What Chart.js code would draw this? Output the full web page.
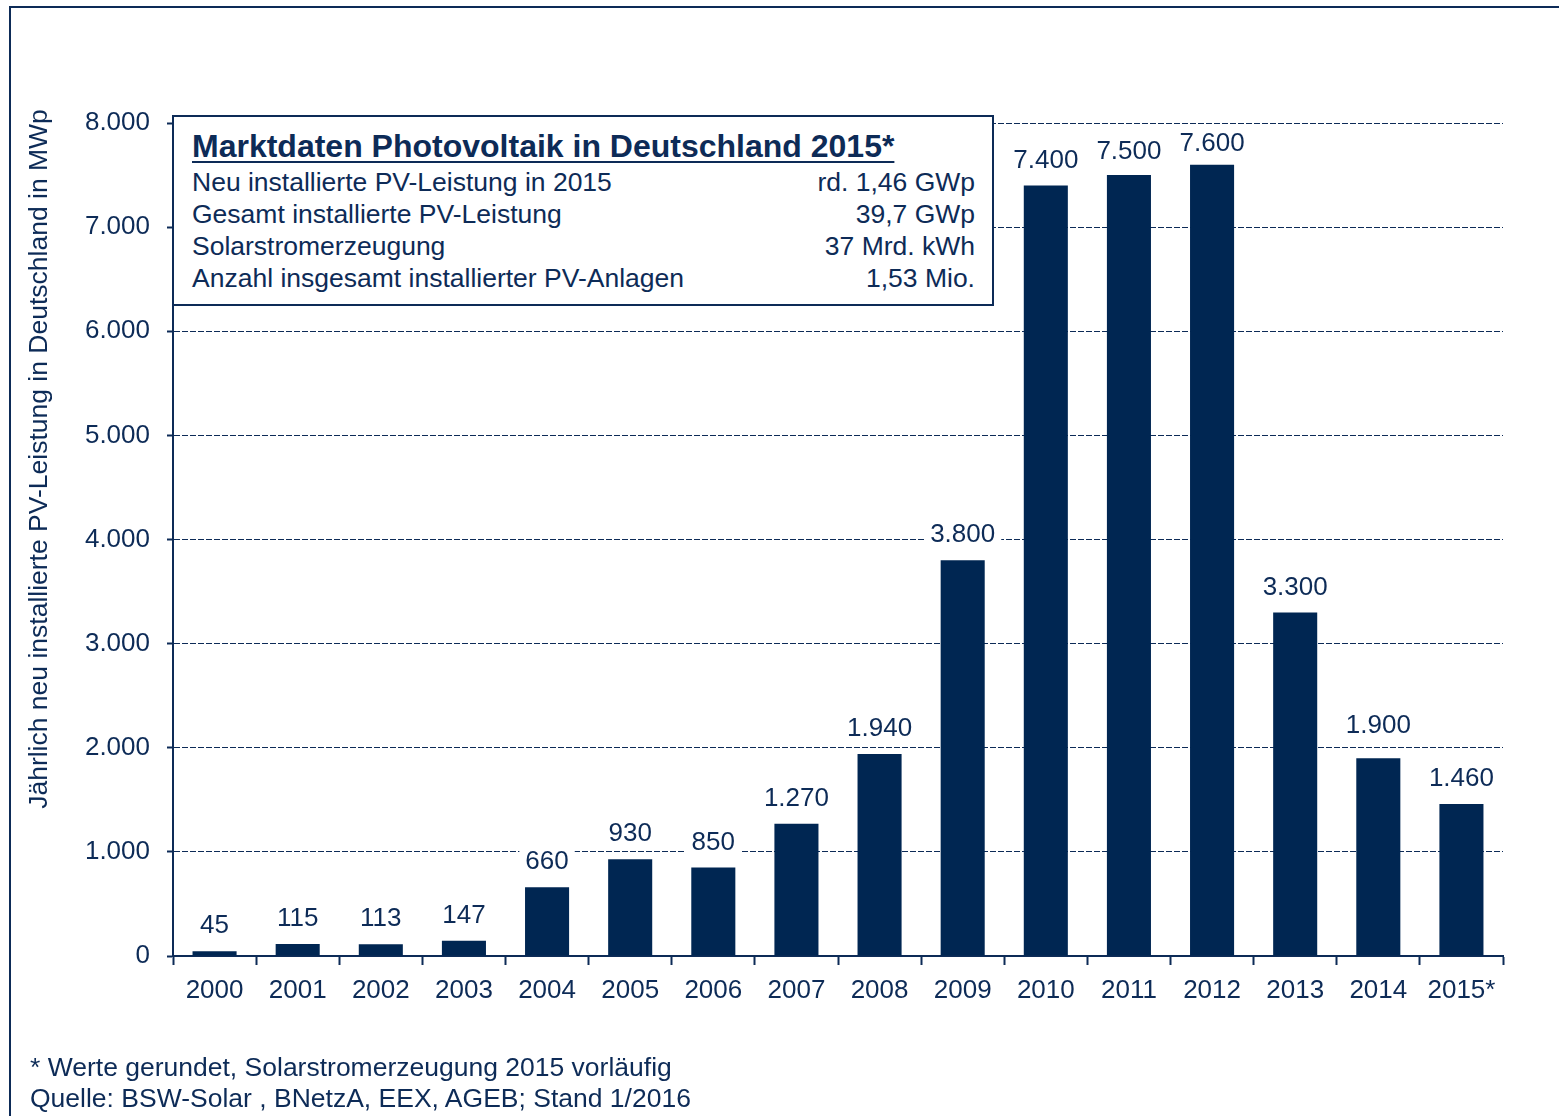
<!DOCTYPE html>
<html>
<head>
<meta charset="utf-8">
<script src="https://cdn.jsdelivr.net/npm/chart.js@4/dist/chart.umd.min.js"></script>
<style>
  html, body { margin: 0; padding: 0; background: #fff; overflow: hidden; }
  body { width: 1559px; height: 1116px; position: relative; font-family: "Liberation Sans", Arial, sans-serif; color: #0d2b57; }
  #frame { position: absolute; left: 9px; top: 6px; right: -20px; bottom: -20px; border: 2px solid #0d2b57; }
  #wrap { position: absolute; left: 0; top: 0; width: 1559px; height: 1116px; }
  #ytitle { position: absolute; left: -362px; top: 444px; width: 800px; height: 30px; line-height: 30px; text-align: center; font-size: 26.5px; transform: rotate(-90deg); transform-origin: 400px 15px; white-space: nowrap; }
  #info { position: absolute; left: 172px; top: 115px; width: 818px; height: 187px; border: 2px solid #0d2b57; background: #fff; }
  #info .title { position: absolute; left: 18px; top: 10px; font-size: 32px; line-height: 38px; font-weight: bold; text-decoration: underline; text-decoration-thickness: 2px; text-underline-offset: 4px; }
  #info .row { position: absolute; left: 18px; right: 17px; font-size: 26.5px; line-height: 30px; display: flex; justify-content: space-between; }
  .foot { position: absolute; left: 30px; font-size: 26.5px; line-height: 30px; }
</style>
</head>
<body>
<div id="frame"></div>
<div id="wrap"><canvas id="pvChart" width="1559" height="1116"></canvas></div>
<div id="ytitle">Jährlich neu installierte PV-Leistung in Deutschland in MWp</div>
<div id="info">
  <div class="title">Marktdaten Photovoltaik in Deutschland 2015*</div>
  <div class="row" style="top:50px"><span>Neu installierte PV-Leistung in 2015</span><span>rd. 1,46 GWp</span></div>
  <div class="row" style="top:82px"><span>Gesamt installierte PV-Leistung</span><span>39,7 GWp</span></div>
  <div class="row" style="top:114px"><span>Solarstromerzeugung</span><span>37 Mrd. kWh</span></div>
  <div class="row" style="top:146px"><span>Anzahl insgesamt installierter PV-Anlagen</span><span>1,53 Mio.</span></div>
</div>
<div class="foot" style="top:1052px">* Werte gerundet, Solarstromerzeugung 2015 vorläufig</div>
<div class="foot" style="top:1083px">Quelle: BSW-Solar , BNetzA, EEX, AGEB; Stand 1/2016</div>
<script>
var years = ["2000", "2001", "2002", "2003", "2004", "2005", "2006", "2007", "2008", "2009", "2010", "2011", "2012", "2013", "2014", "2015*"];
var newCapacity = [45, 115, 113, 147, 660, 930, 850, 1270, 1940, 3800, 7400, 7500, 7600, 3300, 1900, 1460];
var yTicks = [0, 1000, 2000, 3000, 4000, 5000, 6000, 7000, 8000];

var navy = "#0d2b57";
var barColor = "#002652";

// a few labels sit a bit off the usual distance above the bar
var labelShift = { 11: 2, 12: 4, 14: -7 };

// 1.270 style thousands separator
function fmt(v) {
    var s = String(Math.round(v));
    return s.replace(/\B(?=(\d{3})+(?!\d))/g, ".");
}

var valueLabels = {
    id: "valueLabels",
    afterDatasetsDraw: function (chart) {
        var ctx = chart.ctx;
        var meta = chart.getDatasetMeta(0);
        ctx.save();
        ctx.font = "26px 'Liberation Sans', Arial, sans-serif";
        ctx.textAlign = "center";
        ctx.textBaseline = "middle";
        meta.data.forEach(function (bar, i) {
            var txt = fmt(newCapacity[i]);
            var w = ctx.measureText(txt).width;
            var cy = bar.y - 25 + (labelShift[i] || 0);
            ctx.fillStyle = "#fff";
            ctx.fillRect(bar.x - w / 2 - 6, cy - 14, w + 12, 28);
            ctx.fillStyle = navy;
            ctx.fillText(txt, bar.x, cy);
        });
        ctx.restore();
    }
};

Chart.defaults.font.family = "'Liberation Sans', Arial, sans-serif";
Chart.defaults.color = navy;

new Chart("pvChart", {
    type: "bar",
    data: {
        labels: years,
        datasets: [{
            data: newCapacity,
            backgroundColor: barColor,
            borderWidth: 0,
            barPercentage: 0.53,
            categoryPercentage: 1
        }]
    },
    options: {
        responsive: false,
        animation: false,
        layout: { padding: { left: 0, right: 56, top: 123, bottom: 0 } },
        plugins: { legend: { display: false }, tooltip: { enabled: false } },
        scales: {
            x: {
                afterFit: function (s) { s.height = 160; },
                grid: { offset: true, drawOnChartArea: false, drawTicks: true, tickLength: 9, tickColor: navy, tickWidth: 2 },
                border: { color: navy, width: 2 },
                ticks: { font: { size: 26 }, color: navy, padding: 10, maxRotation: 0, autoSkip: false }
            },
            y: {
                min: 0,
                max: 8000,
                afterFit: function (s) { s.width = 173; },
                afterBuildTicks: function (s) { s.ticks = yTicks.map(function (v) { return { value: v }; }); },
                grid: {
                    color: navy, lineWidth: 1,
                    tickLength: 6, tickColor: navy, tickWidth: 2, tickBorderDash: []
                },
                border: { color: navy, width: 2, dash: [6, 2] },
                ticks: { font: { size: 26 }, color: navy, padding: 17, callback: function (v) { return fmt(v); } }
            }
        }
    },
    plugins: [valueLabels]
});
</script>
</body>
</html>
